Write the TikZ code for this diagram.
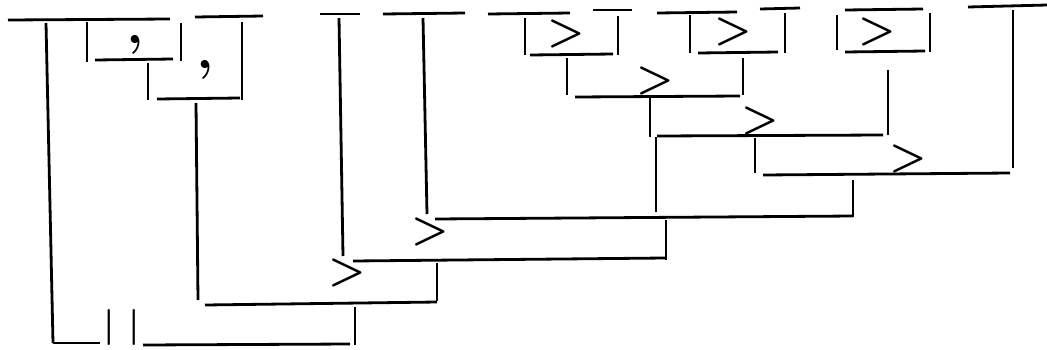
\documentclass[tikz,border=0pt]{standalone}
\usepackage{fontspec}

\begin{document}
\begin{tikzpicture}[
    x=1pt, y=-1pt,
    bar/.style={line width=2.8pt},
    op/.style={inner sep=0pt, font=\fontsize{42}{42}\selectfont\bfseries},
    sep/.style={inner sep=0pt, font=\fontsize{56}{56}\selectfont\bfseries},
    par/.style={inner sep=0pt, font=\fontsize{36}{36}\selectfont\bfseries}
  ]
  \useasboundingbox (0,0) rectangle (1047,349);

  % top bars
  \draw[bar] (8,20) -- (170,19);
  \draw[bar] (195,17) -- (263,16);
  \draw[bar] (320,14) -- (360,14);
  \draw[bar] (383,14) -- (465,13);
  \draw[bar] (488,14) -- (570,13);
  \draw[bar] (593,10) -- (632,10);
  \draw[bar] (657,13) -- (737,12);
  \draw[bar] (760,9) -- (800,8);
  \draw[bar] (845,10) -- (923,9);
  \draw[bar] (968,7) -- (1047,5);

  % left part
  \draw[bar] (87,22) -- (87,62);
  \draw[bar] (95,60) -- (173,59);
  \draw[bar] (181,23) -- (181,61);
  \node[sep] (c1) at (135,45) {,};
  \draw[bar] (148,63) -- (148,100);
  \draw[bar] (157,99) -- (240,98);
  \draw[bar] (242,22) -- (242,100);
  \node[sep] (c2) at (205,70) {,};
  \draw[bar] (196,103) -- (198,300);

  % boxes on the right
  \draw[bar] (525,18) -- (525,55);
  \draw[bar] (530,55) -- (613,54);
  \draw[bar] (618,16) -- (618,55);
  \node[op] (a) at (566,34) {>};
  \draw[bar] (690,15) -- (690,53);
  \draw[bar] (698,53) -- (778,52);
  \draw[bar] (785,13) -- (785,53);
  \node[op] (c) at (733,32) {>};
  \draw[bar] (837,15) -- (837,50);
  \draw[bar] (845,52) -- (925,51);
  \draw[bar] (930,13) -- (930,52);
  \node[op] (d) at (877,32) {>};

  % joins
  \draw[bar] (567,58) -- (567,95);
  \draw[bar] (743,58) -- (743,95);
  \draw[bar] (575,97) -- (740,96);
  \node[op] (b) at (655,81) {>};
  \draw[bar] (650,97) -- (650,137);
  \draw[bar] (888,70) -- (888,135);
  \draw[bar] (657,136) -- (883,135);
  \node[op] (e) at (760,121) {>};
  \draw[bar] (656,137) -- (656,212);
  \draw[bar] (755,138) -- (755,173);
  \draw[bar] (1013,10) -- (1013,168);
  \draw[bar] (763,175) -- (1010,173);
  \node[op] (f) at (908,159) {>};
  \draw[bar] (853,180) -- (853,217);
  \draw[bar] (423,18) -- (427,214);
  \draw[bar] (435,219) -- (853,216);
  \node[op] (g) at (430,232) {>};
  \draw[bar] (666,220) -- (666,260);
  \draw[bar] (339,18) -- (343,256);
  \draw[bar] (353,261) -- (665,258);
  \node[op] (h) at (347,273) {>};
  \draw[bar] (437,263) -- (437,301);
  \draw[bar] (205,305) -- (437,302);
  \draw[bar] (355,307) -- (355,345);

  % bottom
  \draw[bar] (46,23) -- (53,343);
  \draw[bar] (53,343) -- (100,343);
  \node[par] (p) at (122,327) {|\hspace{14pt}|};
  \draw[bar] (143,345) -- (350,344);
\end{tikzpicture}
\end{document}
